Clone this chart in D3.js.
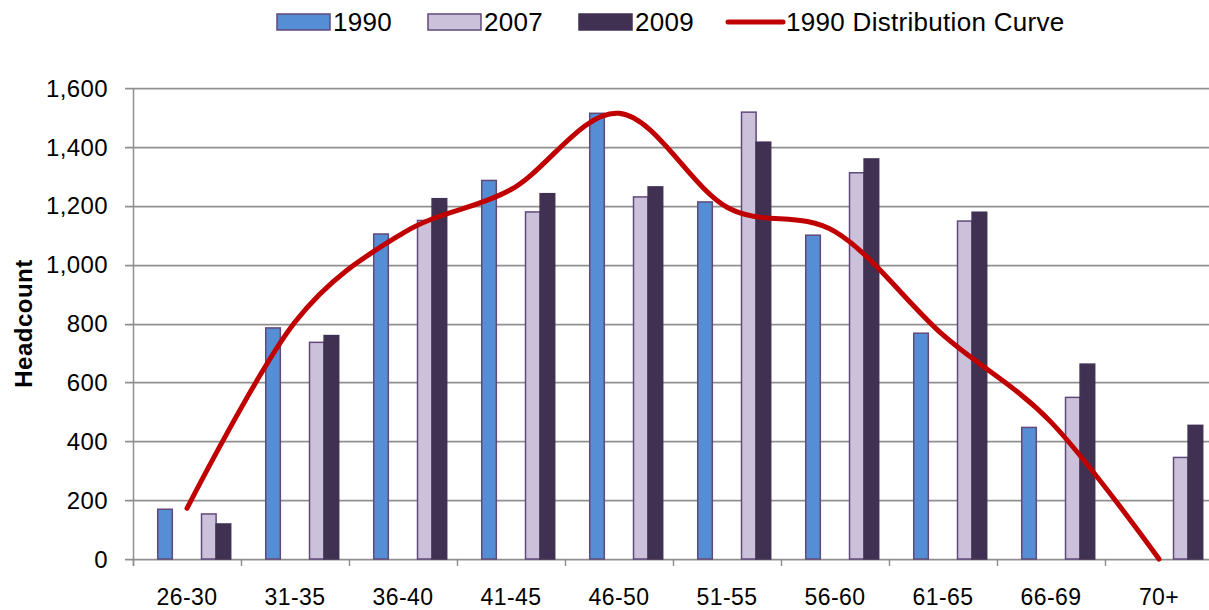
<!DOCTYPE html>
<html>
<head>
<meta charset="utf-8">
<script src="https://cdn.jsdelivr.net/npm/d3@7"></script>
<style>
  html, body { margin: 0; padding: 0; background: #fff; }
  svg { display: block; font-family: "Liberation Sans", Arial, sans-serif; }
</style>
</head>
<body>
<svg id="chart" width="1209" height="610"></svg>
<script>
// Age bands on the x axis
const ageBands = ["26-30", "31-35", "36-40", "41-45", "46-50", "51-55", "56-60", "61-65", "66-69", "70+"];

// Headcount per age band
const values1990 = [169, 785, 1104, 1286, 1514, 1213, 1100, 767, 447, 0];
const values2007 = [153, 736, 1150, 1179, 1230, 1518, 1312, 1148, 549, 345];
const values2009 = [119, 759, 1224, 1241, 1264, 1416, 1359, 1178, 662, 454];

// Smoothed 1990 distribution curve, one point per age band
const curve1990 = [172, 805, 1107, 1255, 1514, 1195, 1112, 761, 465, 0];

// Y axis ticks
const yTicks = [0, 200, 400, 600, 800, 1000, 1200, 1400, 1600];

// Bar series and their slot in each cluster (two empty slots sit between 1990 and 2007)
const seriesNames = ["1990", "2007", "2009"];
const slots = ["1990", "slotA", "slotB", "2007", "2009"];
const legendLabels = ["1990", "2007", "2009", "1990 Distribution Curve"];

const colors = { "1990": "#558ED5", "2007": "#CCC1DA", "2009": "#403152" };
const outline = "#604A7B";
const curveColor = "#C00000";

const svg = d3.select("#chart");
const plotLeft = 133, plotTop = 88, plotBottom = 559, step = 108;

const x = d3.scaleBand()
  .domain(ageBands)
  .range([plotLeft, plotLeft + step * ageBands.length])
  .padding(0);

const inner = d3.scaleBand()
  .domain(slots)
  .range([0, x.bandwidth()])
  .paddingInner(0)
  .paddingOuter(1.2)
  .align(0.706);

const y = d3.scaleLinear().domain([0, 1600]).range([plotBottom, plotTop]);

svg.append("rect").attr("width", 1209).attr("height", 610).attr("fill", "#fff");

// Horizontal gridlines with a soft highlight beneath
const grid = svg.append("g");
yTicks.forEach(t => {
  const yy = Math.round(y(t));
  grid.append("line")
    .attr("x1", plotLeft - 8).attr("x2", 1209)
    .attr("y1", yy + 1.5).attr("y2", yy + 1.5)
    .attr("stroke", "#dcdcdc").attr("stroke-width", 1);
  grid.append("line")
    .attr("x1", plotLeft - 8).attr("x2", 1209)
    .attr("y1", yy + 0.5).attr("y2", yy + 0.5)
    .attr("stroke", "#8f8f8f").attr("stroke-width", 1.3);
});

// Y axis line
svg.append("line")
  .attr("x1", plotLeft + 0.5).attr("x2", plotLeft + 0.5)
  .attr("y1", y(1600)).attr("y2", y(0) + 7)
  .attr("stroke", "#8f8f8f").attr("stroke-width", 1.5);

// X axis tick marks at band boundaries
ageBands.forEach(b => {
  const xx = Math.round(x(b)) + 0.5;
  svg.append("line")
    .attr("x1", xx).attr("x2", xx)
    .attr("y1", y(0)).attr("y2", y(0) + 7)
    .attr("stroke", "#8f8f8f").attr("stroke-width", 1.5);
});

// Y tick labels
const yLabelFmt = d3.format(",");
svg.append("g").selectAll("text")
  .data(yTicks)
  .join("text")
  .attr("x", 108)
  .attr("y", d => y(d))
  .attr("dy", "0.36em")
  .attr("text-anchor", "end")
  .attr("font-size", 24)
  .attr("letter-spacing", 0.4)
  .attr("fill", "#000")
  .text(d => yLabelFmt(d));

// X tick labels
svg.append("g").selectAll("text")
  .data(ageBands)
  .join("text")
  .attr("x", d => x(d) + x.bandwidth() / 2)
  .attr("y", 605)
  .attr("text-anchor", "middle")
  .attr("font-size", 23)
  .attr("letter-spacing", 0.4)
  .attr("fill", "#000")
  .text(d => d);

// Y axis title
svg.append("text")
  .attr("transform", `translate(32, ${(plotTop + plotBottom) / 2}) rotate(-90)`)
  .attr("text-anchor", "middle")
  .attr("font-size", 24)
  .attr("font-weight", "bold")
  .attr("letter-spacing", 0.5)
  .attr("fill", "#000")
  .text("Headcount");

// Bars
const seriesData = { "1990": values1990, "2007": values2007, "2009": values2009 };
seriesNames.forEach(name => {
  const vals = seriesData[name];
  svg.append("g").selectAll("rect")
    .data(ageBands.map((b, i) => ({ band: b, v: vals[i] })).filter(d => d.v > 0))
    .join("rect")
    .attr("x", d => x(d.band) + inner(name))
    .attr("width", inner.bandwidth())
    .attr("y", d => y(d.v))
    .attr("height", d => y(0) - y(d.v))
    .attr("fill", colors[name])
    .attr("stroke", name === "2009" ? colors[name] : outline)
    .attr("stroke-width", 1.5);
});

// 1990 distribution curve (Catmull-Rom smoothing through each band centre)
const line = d3.line()
  .x((d, i) => x(ageBands[i]) + x.bandwidth() / 2)
  .y(d => y(d))
  .curve(d3.curveCardinal.tension(0));

svg.append("path")
  .attr("d", line(curve1990))
  .attr("fill", "none")
  .attr("stroke", curveColor)
  .attr("stroke-width", 5)
  .attr("stroke-linecap", "round")
  .attr("stroke-linejoin", "round");

// Legend
const legendX = [277, 428, 579, 728];
const legend = svg.append("g");
legendLabels.forEach((lab, i) => {
  const lx = legendX[i];
  if (i < 3) {
    legend.append("rect")
      .attr("x", lx).attr("y", 14)
      .attr("width", 53).attr("height", 16)
      .attr("fill", colors[lab])
      .attr("stroke", lab === "2009" ? colors[lab] : outline)
      .attr("stroke-width", 1.5);
  } else {
    legend.append("line")
      .attr("x1", lx).attr("x2", lx + 55)
      .attr("y1", 22).attr("y2", 22)
      .attr("stroke", curveColor).attr("stroke-width", 5)
      .attr("stroke-linecap", "round");
  }
  legend.append("text")
    .attr("x", lx + (i < 3 ? 56 : 58))
    .attr("y", 22)
    .attr("dy", "0.36em")
    .attr("font-size", 26)
    .attr("letter-spacing", 0.3)
    .attr("fill", "#000")
    .text(lab);
});
</script>
</body>
</html>
